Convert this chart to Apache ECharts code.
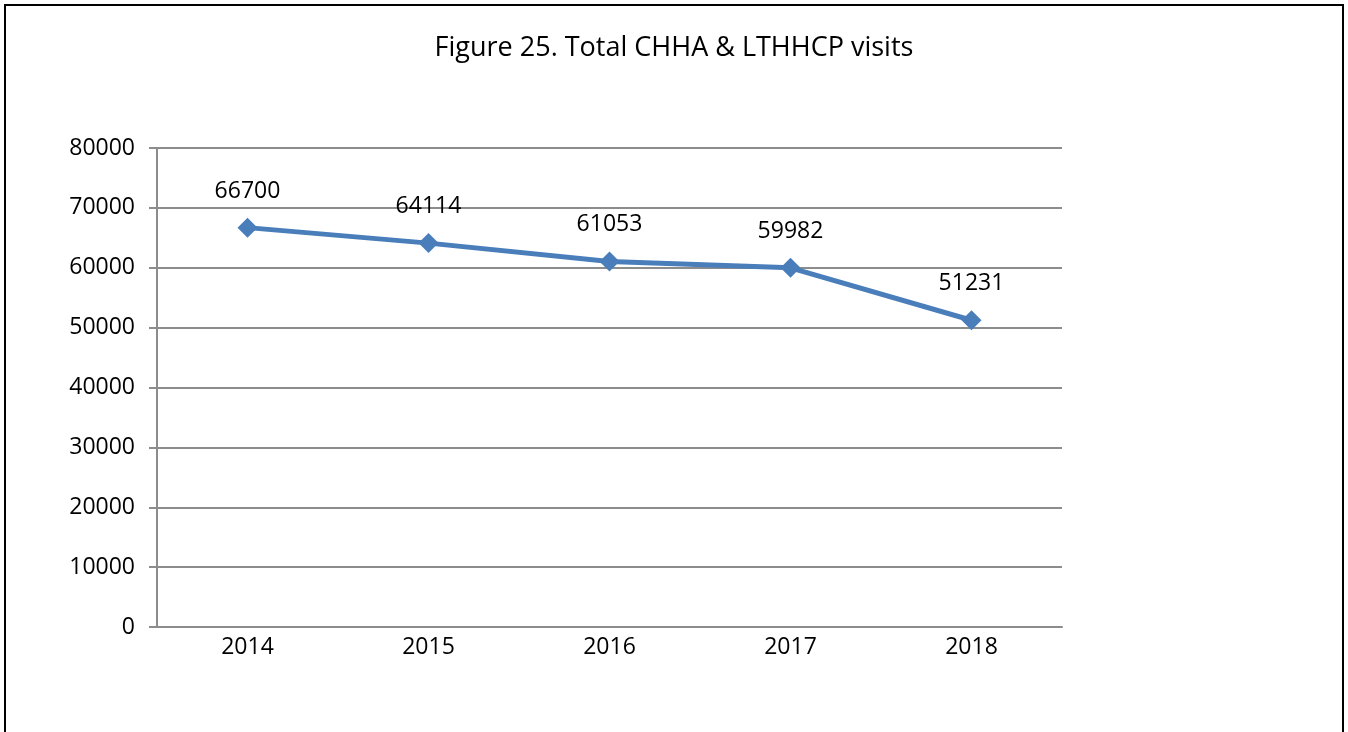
<!DOCTYPE html>
<html>
<head>
<meta charset="utf-8">
<script src="https://cdn.jsdelivr.net/npm/echarts@6/dist/echarts.min.js"></script>
<style>
    html, body { margin: 0; padding: 0; background: #fff; }
    #chart { width: 1348px; height: 732px; }
</style>
</head>
<body>
<div id="chart"></div>
<script>
    // values
    const years = ["2014", "2015", "2016", "2017", "2018"];
    const visits = [66700, 64114, 61053, 59982, 51231];

    const font = "'Open Sans', 'Noto Sans', sans-serif";
    const gridGray = "#8c8c8c";

    let chart = echarts.init(document.getElementById('chart'));
    let option = {
        backgroundColor: "#fff",
        animation: false,
        title: {
            text: "Figure 25. Total CHHA & LTHHCP visits",
            left: "center",
            top: 30,
            textStyle: {
                fontFamily: font,
                fontSize: 27,
                fontWeight: "normal",
                color: "#000"
            }
        },
        graphic: [{
            type: "rect",
            shape: { x: 5, y: 5, width: 1338, height: 760 },
            style: { fill: "none", stroke: "#000", lineWidth: 2 },
            silent: true
        }],
        grid: {
            left: 157,
            right: 286,
            top: 148,
            bottom: 105
        },
        xAxis: {
            type: 'category',
            data: years,
            boundaryGap: true,
            axisLine: { lineStyle: { color: gridGray, width: 2 } },
            axisTick: { show: false },
            axisLabel: {
                margin: 9,
                fontFamily: font,
                fontSize: 23,
                color: "#000"
            }
        },
        yAxis: {
            type: 'value',
            min: 0,
            max: 80000,
            interval: 10000,
            axisLine: { show: true, lineStyle: { color: gridGray, width: 2 } },
            axisTick: { show: true, length: 8, lineStyle: { color: gridGray, width: 2 } },
            splitLine: { lineStyle: { color: gridGray, width: 2 } },
            axisLabel: {
                margin: 22,
                fontFamily: font,
                fontSize: 23,
                color: "#000",
                formatter: value => String(value)
            }
        },
        series: [{
            name: "visits",
            type: 'line',
            data: visits,
            symbol: "diamond",
            symbolSize: 20,
            itemStyle: { color: "#4a7ebb" },
            lineStyle: { color: "#4a7ebb", width: 5 },
            label: {
                show: true,
                position: "top",
                distance: 15,
                fontFamily: font,
                fontSize: 23,
                color: "#000"
            }
        }]
    };
    chart.setOption(option);
</script>
</body>
</html>
